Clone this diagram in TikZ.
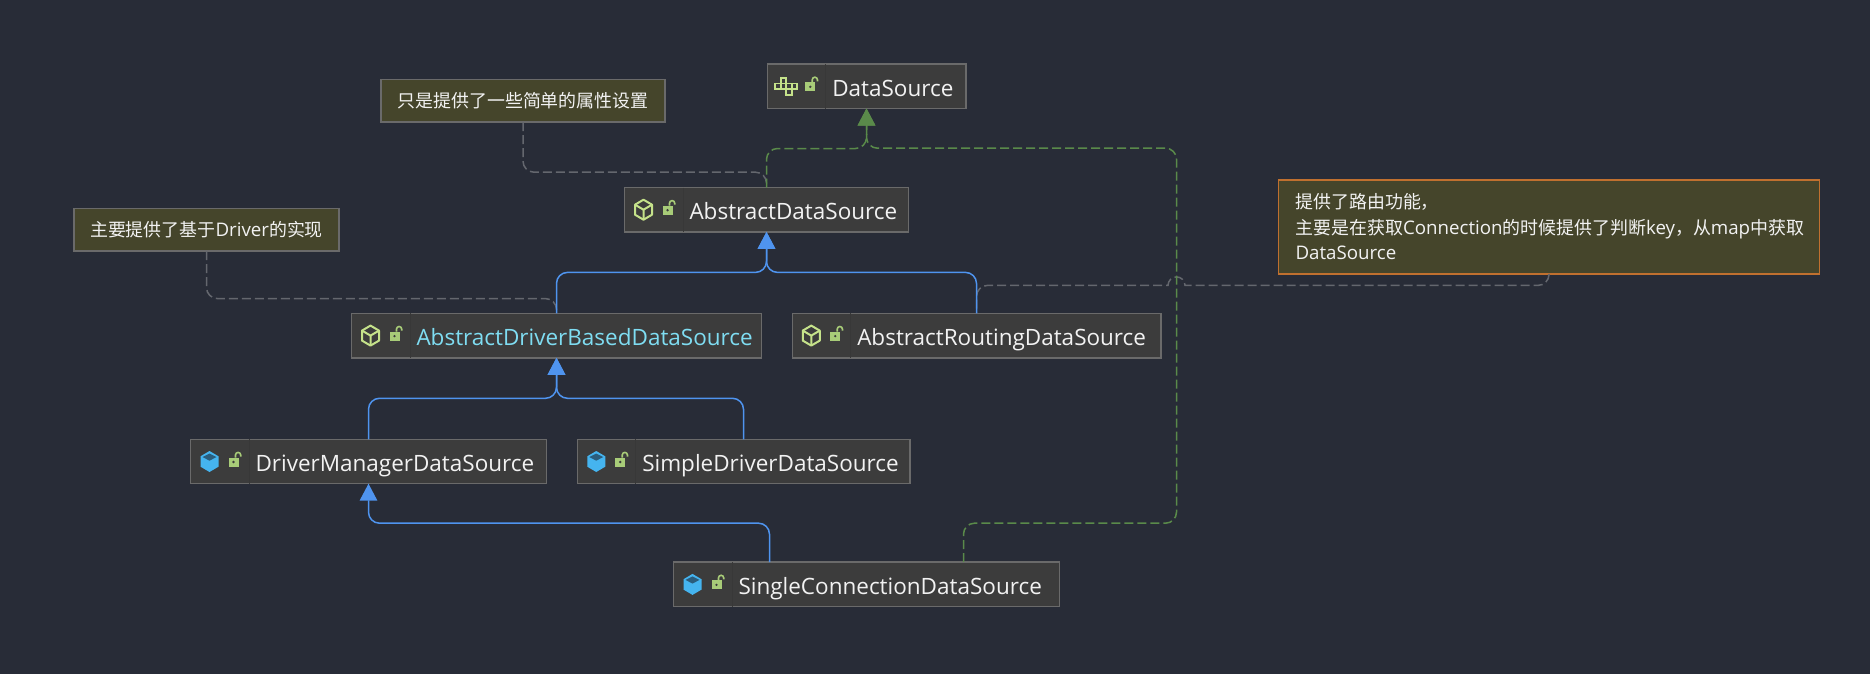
\documentclass[tikz,border=0pt]{standalone}
\usepackage{fontspec}
\setmainfont{Open Sans}
\newfontfamily\cjk{Noto Sans CJK SC}
\usetikzlibrary{positioning, arrows.meta}

\definecolor{bgcol}{HTML}{282C37}
\definecolor{boxcol}{HTML}{3C3C3C}
\definecolor{boxline}{HTML}{6A6A6A}
\definecolor{divcol}{HTML}{383838}
\definecolor{notecol}{HTML}{45452B}
\definecolor{noteorange}{HTML}{C0702F}
\definecolor{textcol}{HTML}{F2F2F2}
\definecolor{cyantext}{HTML}{7FDDF2}
\definecolor{implblue}{HTML}{4F94EF}
\definecolor{extgreen}{HTML}{5A8A4A}
\definecolor{notegray}{HTML}{64676E}
\definecolor{lockcol}{HTML}{A8CC78}
\definecolor{absicon}{HTML}{C5E28A}
\definecolor{claicon}{HTML}{45B4EF}
\definecolor{clatop}{HTML}{2B5D7C}

\tikzset{
	pics/lockicon/.style={code={
		\begin{scope}[x=.02cm,y=.02cm]
		\fill[lockcol] (-5,-5) rectangle (5,4);
		\fill[boxcol] (0,-.5) circle (1.3);
		\draw[lockcol, line width=.032cm] (2,4) -- (2,6.5) arc[start angle=180,end angle=0,radius=2.6] -- (7.2,5);
		\end{scope}
	}},
	pics/absclass/.style={code={
		\begin{scope}[x=.02cm,y=.02cm]
		\draw[absicon, line width=.04cm, line join=round] (0,10) -- (8.5,5) -- (8.5,-5) -- (0,-10) -- (-8.5,-5) -- (-8.5,5) -- cycle;
		\draw[absicon, line width=.04cm, line join=round] (-8.5,5) -- (0,0) -- (8.5,5) (0,0) -- (0,-10);
		\end{scope}
	}},
	pics/conclass/.style={code={
		\begin{scope}[x=.02cm,y=.02cm]
		\fill[claicon] (0,10.5) -- (9,5.2) -- (9,-5.2) -- (0,-10.5) -- (-9,-5.2) -- (-9,5.2) -- cycle;
		\fill[clatop] (0,8) -- (7,4.5) -- (0,.8) -- (-7,4.5) -- cycle;
		\end{scope}
	}},
	pics/gridicon/.style={code={
		\begin{scope}[x=.02cm,y=.02cm, absicon, line width=.036cm]
		\draw (-5.5,2.8) rectangle (0,8.3);
		\draw (-11,-2.8) rectangle (-5.5,2.8);
		\draw (-5.5,-2.8) rectangle (0,2.8);
		\draw (0,-2.8) rectangle (5.5,2.8);
		\draw (5.5,-2.8) rectangle (11,2.8);
		\draw (0,-8.3) rectangle (5.5,-2.8);
		\end{scope}
	}}
}

\newcommand{\boxicons}[2]{
	\pic at ([xshift=.38cm]#1.west) {#2};
	\pic at ([xshift=.86cm]#1.west) {lockicon};
	\draw[divcol, line width=.02cm] ([xshift=1.17cm]#1.north west) -- ([xshift=1.17cm]#1.south west);
}
\newcommand{\lat}[1]{{\normalfont\fontsize{10.65}{14.5}\selectfont #1}}

\begin{document}
\begin{tikzpicture}[
	clas/.style={rectangle, draw=boxline, fill=boxcol, line width=.03cm, outer sep=0pt, inner xsep=.26cm, inner ysep=0pt, text width=#1, align=left, minimum height=.888cm, text height=.48cm, text depth=.08cm, text=textcol, font=\fontsize{12.8}{14}\selectfont, execute at begin node={\leavevmode\hbox\bgroup\hspace*{1.04cm}}, execute at end node={\egroup}},
	nte/.style={rectangle, draw=boxline, fill=notecol, line width=.03cm, outer sep=0pt, inner sep=0pt, text=textcol, font=\cjk\fontsize{10.2}{14.5}\selectfont},
	arrimpl/.style={draw=implblue, line width=.03cm, rounded corners=.22cm, -{Triangle[length=.34cm, width=.35cm]}},
	arrext/.style={arrimpl, draw=extgreen, dash pattern=on .18cm off .08cm},
	arrnote/.style={draw=notegray, line width=.03cm, rounded corners=.22cm, dash pattern=on .18cm off .08cm}
	]

\fill[bgcol] (0,0) rectangle (37.4,-13.48);
\useasboundingbox (0,0) rectangle (37.4,-13.48);

\node[clas=3.45cm, anchor=center] at (17.33,-1.726) (ds) {DataSource};
\node[clas=5.16cm, below=1.58cm of ds, xshift=-2cm] (ads) {AbstractDataSource};
\node[clas=7.68cm, below=1.63cm of ads, xshift=-4.2cm, text=cyantext] (adbds) {AbstractDriverBasedDataSource};
\node[clas=6.85cm, below=1.63cm of ads, xshift=4.2cm] (ards) {AbstractRoutingDataSource};
\node[clas=6.6cm, below=1.63cm of adbds, xshift=-3.76cm] (dmds) {DriverManagerDataSource};
\node[clas=6.13cm, below=1.63cm of adbds, xshift=3.74cm] (sdds) {SimpleDriverDataSource};
\node[clas=7.2cm, below=1.57cm of dmds, xshift=9.96cm] (scds) {SingleConnectionDataSource};

\node[nte, minimum width=5.68cm, minimum height=.854cm, above=1.306cm of ads, xshift=-4.87cm] (note1) {只是提供了一些简单的属性设置};
\node[nte, minimum width=5.3cm, minimum height=.854cm, above=1.246cm of adbds, xshift=-7cm] (note2) {主要提供了基于\lat{Driver}的实现};
\node[nte, draw=noteorange, text width=10.14cm, inner xsep=.34cm, minimum height=1.88cm, align=left, above=.79cm of ards, xshift=11.45cm] (note3) {提供了路由功能，\\主要是在获取\lat{Connection}的时候提供了判断\lat{key}，从\lat{map}中获取\\\lat{DataSource}};

\boxicons{ds}{gridicon}
\boxicons{ads}{absclass}
\boxicons{adbds}{absclass}
\boxicons{ards}{absclass}
\boxicons{dmds}{conclass}
\boxicons{sdds}{conclass}
\boxicons{scds}{conclass}

\draw[arrnote] (note1.south) -- ++(0,-1) -| (ads.north);
\draw[arrnote] (note2.south) -- ++(0,-.95) -| (adbds.north);
\draw[arrnote] (note3.south) -- ++(0,-.23) -- ++(-1,0) [sharp corners] -- ++(-6.28,0) arc[start angle=0, end angle=180, radius=.17cm] -- ++(-1,0) [rounded corners=.22cm] -- ++(-1,0) -| (ards.north);

\draw[arrext] (ads.north) -- ++(0,.78) -| (ds.south);
\draw[arrext] ([xshift=1.94cm]scds.north) -- ++(0,.78) -- ++(4.26,0) -- ++(0,7.5) -| (ds.south);

\draw[arrimpl] (adbds.north) -- ++(0,.82) -| (ads.south);
\draw[arrimpl] (ards.north) -- ++(0,.82) -| (ads.south);
\draw[arrimpl] (dmds.north) -- ++(0,.82) -| (adbds.south);
\draw[arrimpl] (sdds.north) -- ++(0,.82) -| (adbds.south);
\draw[arrimpl] ([xshift=-1.94cm]scds.north) -- ++(0,.78) -| (dmds.south);

\end{tikzpicture}
\end{document}
